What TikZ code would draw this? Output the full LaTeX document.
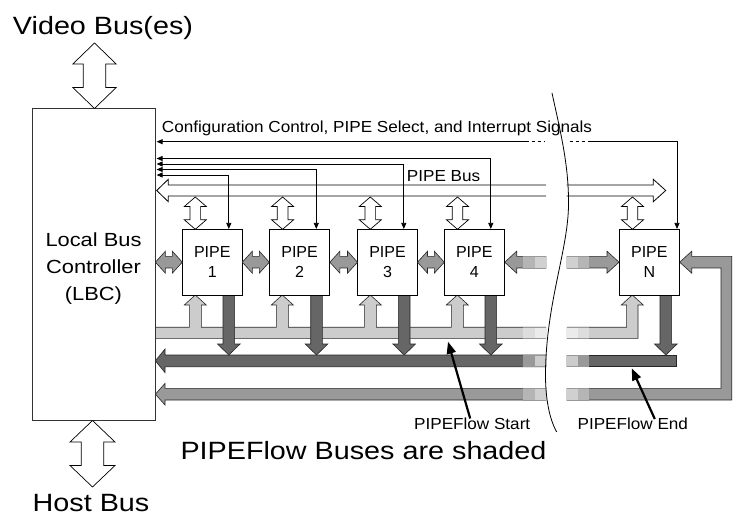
\documentclass[tikz,border=0pt]{standalone}
\usepackage{graphicx}
\usepackage{fontspec}
\setmainfont{Liberation Sans}
\usetikzlibrary{arrows.meta,calc}
\definecolor{lightbus}{HTML}{CCCCCC}
\definecolor{lightfa}{HTML}{DDDDDD}
\definecolor{lightfb}{HTML}{EBEBEB}
\definecolor{midbus}{HTML}{999999}
\definecolor{midfa}{HTML}{B5B5B5}
\definecolor{midfb}{HTML}{D0D0D0}
\definecolor{darkbus}{HTML}{666666}
\definecolor{darkfa}{HTML}{999999}
\definecolor{darkfb}{HTML}{CCCCCC}
\newcommand\sx[1]{\scalebox{1.07}[1]{#1}}
\newcommand\bx[1]{\scalebox{1.15}[1]{#1}}
% vertical double arrow: style, cx, ytop, ybot, headlen, headhalf, shafthalf
\newcommand\VDA[7]{\filldraw[#1] (#2,#3) -- ({#2+#6},{#3+#5}) -- ({#2+#7},{#3+#5}) -- ({#2+#7},{#4-#5}) -- ({#2+#6},{#4-#5}) -- (#2,#4) -- ({#2-#6},{#4-#5}) -- ({#2-#7},{#4-#5}) -- ({#2-#7},{#3+#5}) -- ({#2-#6},{#3+#5}) -- cycle;}
% horizontal double arrow: style, cy, xl, xr, headlen, headhalf, shafthalf
\newcommand\HDA[7]{\filldraw[#1] (#3,#2) -- ({#3+#5},{#2-#6}) -- ({#3+#5},{#2-#7}) -- ({#4-#5},{#2-#7}) -- ({#4-#5},{#2-#6}) -- (#4,#2) -- ({#4-#5},{#2+#6}) -- ({#4-#5},{#2+#7}) -- ({#3+#5},{#2+#7}) -- ({#3+#5},{#2+#6}) -- cycle;}
% down arrow from PIPE bottom to dark bus
\newcommand\DNA[2]{\filldraw[#1] ({#2-5.8},295) -- ({#2-5.8},344) -- ({#2-11.3},344) -- (#2,355) -- ({#2+11.3},344) -- ({#2+5.8},344) -- ({#2+5.8},295) -- cycle;}
% fades at the break: ytop, ybot, colour a, colour b
\newcommand\FADEL[4]{\fill[#3] (523,{#1-0.5}) rectangle (535,{#2+0.5});\fill[#4] (535,{#1-0.5}) rectangle (547,{#2+0.5});\draw[fadeline] (523,#1) -- (546,#1) (523,#2) -- (546,#2);}
\newcommand\FADER[4]{\fill[#4] (566,{#1-0.5}) rectangle (578,{#2+0.5});\fill[#3] (578,{#1-0.5}) rectangle (589,{#2+0.5});\draw[fadeline] (567,#1) -- (589,#1) (567,#2) -- (589,#2);}
\begin{document}
\begin{tikzpicture}[x=1pt,y=-1pt,line join=miter,
  bus/.style={draw=black!85,line width=0.6pt},
  pipebox/.style={draw,line width=0.8pt,fill=white,minimum width=60pt,minimum height=65.7pt,inner sep=0pt,align=center,font=\fontsize{16}{20}\selectfont},
  sig/.style={line width=0.8pt,-{Triangle[length=6pt,width=5pt]}},
  sigb/.style={line width=0.8pt,{Triangle[length=6pt,width=5pt]}-{Triangle[length=6pt,width=5pt]}},
  hollow/.style={draw,line width=0.7pt,fill=white},
  pointer/.style={line width=2.2pt,-{Triangle[length=12pt,width=9pt]}},
  fadeline/.style={draw=black!40,line width=0.5pt},
  smalltxt/.style={font=\fontsize{16}{19}\selectfont,inner sep=0pt},
  bigtxt/.style={font=\fontsize{25}{30}\selectfont,inner sep=0pt}]
\useasboundingbox[fill=white] (0,0) rectangle (733,518);

% ---------- light PIPEFlow bus (start) ----------
\filldraw[bus,fill=lightbus] (155.4,327.3)
  -- (189.3,327.3) -- (189.3,305) -- (184.3,305) -- (195.3,295) -- (206.3,305) -- (201.3,305) -- (201.3,327.3)
  -- (276.3,327.3) -- (276.3,305) -- (271.3,305) -- (282.3,295) -- (293.3,305) -- (288.3,305) -- (288.3,327.3)
  -- (364.3,327.3) -- (364.3,305) -- (359.3,305) -- (370.3,295) -- (381.3,305) -- (376.3,305) -- (376.3,327.3)
  -- (451.3,327.3) -- (451.3,305) -- (446.3,305) -- (457.3,295) -- (468.3,305) -- (463.3,305) -- (463.3,327.3)
  -- (546,327.3) -- (546,338.3) -- (155.4,338.3) -- cycle;
\filldraw[bus,fill=lightbus] (567,327.3) -- (626.6,327.3) -- (626.6,305) -- (621.3,305) -- (632.3,295) -- (643.3,305) -- (638,305) -- (638,338.3) -- (567,338.3) -- cycle;

% ---------- medium return bus (loop) ----------
\filldraw[bus,fill=midbus] (546,388.3) -- (165,388.3) -- (165,383.4) -- (155.4,394.2) -- (165,405) -- (165,400) -- (546,400) -- cycle;
\filldraw[bus,fill=midbus] (567,388.3) -- (721,388.3) -- (721,268) -- (691.7,268) -- (691.7,273.2) -- (679.7,262.2) -- (691.7,251.2) -- (691.7,256.4) -- (731.7,256.4) -- (731.7,400) -- (567,400) -- cycle;

% ---------- dark PIPEFlow bus (end) ----------
\filldraw[bus,fill=darkbus] (546,355) -- (165,355) -- (165,349) -- (155.4,360.8) -- (165,372.6) -- (165,366.7) -- (546,366.7) -- cycle;
\filldraw[bus,fill=darkbus] (567,355) -- (676.7,355) -- (676.7,366.7) -- (567,366.7) -- cycle;

% down arrows from PIPEs
\DNA{bus,fill=darkbus}{228.8}
\DNA{bus,fill=darkbus}{316.5}
\DNA{bus,fill=darkbus}{404.2}
\DNA{bus,fill=darkbus}{490.8}
\DNA{bus,fill=darkbus}{665.8}

% arrows between PIPE 4 and PIPE N
\filldraw[bus,fill=midbus] (546,256.4) -- (516.7,256.4) -- (516.7,251.2) -- (504.7,262.2) -- (516.7,273.2) -- (516.7,268) -- (546,268) -- cycle;
\filldraw[bus,fill=midbus] (567,256.4) -- (607,256.4) -- (607,251.2) -- (619,262.2) -- (607,273.2) -- (607,268) -- (567,268) -- cycle;

% fades at the break
\FADEL{256.4}{268}{midfa}{midfb}
\FADER{256.4}{268}{midfa}{midfb}
\FADEL{327.3}{338.3}{lightfa}{lightfb}
\FADER{327.3}{338.3}{lightfa}{lightfb}
\FADEL{355}{366.7}{darkfa}{darkfb}
\FADER{355}{366.7}{darkfa}{darkfb}
\FADEL{388.3}{400}{midfa}{midfb}
\FADER{388.3}{400}{midfa}{midfb}

% ---------- LBC and PIPEs ----------
\node[draw=black!80,line width=0.8pt,minimum width=123pt,minimum height=312pt,inner sep=0pt] (lbc) at (93.5,264.5) {};
\node[font=\fontsize{19}{27}\selectfont,inner sep=0pt] (lbctxt) at (93.5,268) {\bx{\begin{tabular}{@{}c@{}}Local Bus\\Controller\\(LBC)\end{tabular}}};
\node[pipebox] (p1) at (212.3,262.2) {PIPE\\1};
\node[pipebox] (p2) at (299.6,262.2) {PIPE\\2};
\node[pipebox] (p3) at (387.5,262.2) {PIPE\\3};
\node[pipebox] (p4) at (474.3,262.2) {PIPE\\4};
\node[pipebox] (pN) at (649.3,262.2) {PIPE\\N};

% gray neighbour links
\HDA{bus,fill=midbus}{262.2}{155.4}{182.3}{10}{11}{5.8}
\HDA{bus,fill=midbus}{262.2}{242.3}{269.3}{10}{11}{5.8}
\HDA{bus,fill=midbus}{262.2}{329.9}{357.5}{10}{11}{5.8}
\HDA{bus,fill=midbus}{262.2}{417.5}{444.3}{10}{11}{5.8}

% ---------- PIPE bus ----------
\draw[line width=0.8pt] (546,185) -- (168.3,185) -- (168.3,179.3) -- (156.7,190.5) -- (168.3,201.7) -- (168.3,196) -- (546,196);
\draw[line width=0.8pt] (566.7,185) -- (653.3,185) -- (653.3,179.3) -- (665.7,190.5) -- (653.3,201.7) -- (653.3,196) -- (566.7,196);
\node[smalltxt,anchor=base west] (pbtxt) at (406.7,182) {\sx{PIPE Bus}};
\VDA{hollow}{195.3}{197}{229.3}{9.5}{11}{5.3}
\VDA{hollow}{282.6}{197}{229.3}{9.5}{11}{5.3}
\VDA{hollow}{370.3}{197}{229.3}{9.5}{11}{5.3}
\VDA{hollow}{457.5}{197}{229.3}{9.5}{11}{5.3}
\VDA{hollow}{632.5}{197}{229.3}{9.5}{11}{5.3}

% ---------- control / select signals ----------
\coordinate (s1) at (228.8,175);
\coordinate (s2) at (316.3,169.5);
\coordinate (s3) at (403.8,164);
\coordinate (s4) at (490.8,158.5);
\coordinate (sN) at (677,141.7);
\draw[sigb,shorten <=1.2pt] (s1 -| lbc.east) -- (s1) -- (s1 |- p1.north);
\draw[sigb,shorten <=1.2pt] (s2 -| lbc.east) -- (s2) -- (s2 |- p2.north);
\draw[sigb,shorten <=1.2pt] (s3 -| lbc.east) -- (s3) -- (s3 |- p3.north);
\draw[sigb,shorten <=1.2pt] (s4 -| lbc.east) -- (s4) -- (s4 |- p4.north);
\coordinate (cl) at (526,141.7);
\coordinate (cr) at (588,141.7);
\draw[sig,shorten >=1.2pt] (cl) -- (sN -| lbc.east);
\draw[line width=0.8pt,dash pattern=on 3pt off 3pt] (cl) -- (545,141.7);
\draw[line width=0.8pt,dash pattern=on 3pt off 3pt] (570,141.7) -- (cr);
\draw[sig] (cr) -- (sN) -- (sN |- pN.north);
\node[smalltxt,anchor=base west] (cfg) at (161.7,132.7) {\sx{Configuration Control, PIPE Select, and Interrupt Signals}};

% ---------- external buses ----------
\VDA{hollow}{94.5}{43}{108.5}{21}{21.7}{11.2}
\VDA{hollow}{92.5}{420.5}{487}{21.5}{22.5}{11.2}
\node[bigtxt,anchor=base] (vid) at (103,35) {\bx{Video Bus(es)}};
\node[bigtxt,anchor=base] (host) at (91,511.5) {\bx{Host Bus}};

% ---------- break line ----------
\draw[line width=0.8pt] (552,93) .. controls (560,130) and (569,165) .. (568.5,205) .. controls (568,250) and (547,300) .. (545.5,370) .. controls (545,400) and (550,420) .. (556.7,432);

% ---------- labels ----------
\node[smalltxt,anchor=base] (lstart) at (472.2,429.3) {\sx{PIPEFlow Start}};
\node[smalltxt,anchor=base] (lend) at (632.8,429.3) {\sx{PIPEFlow End}};
\coordinate (tipS) at (448,341.7);
\coordinate (tipE) at (631.7,368.3);
\draw[pointer] ($(lstart.north)+(-2,1)$) -- (tipS);
\draw[pointer] ($(lend.north)+(22,1.5)$) -- (tipE);
\node[bigtxt,anchor=base] (shaded) at (363.5,459.3) {\bx{PIPEFlow Buses are shaded}};
\end{tikzpicture}
\end{document}
